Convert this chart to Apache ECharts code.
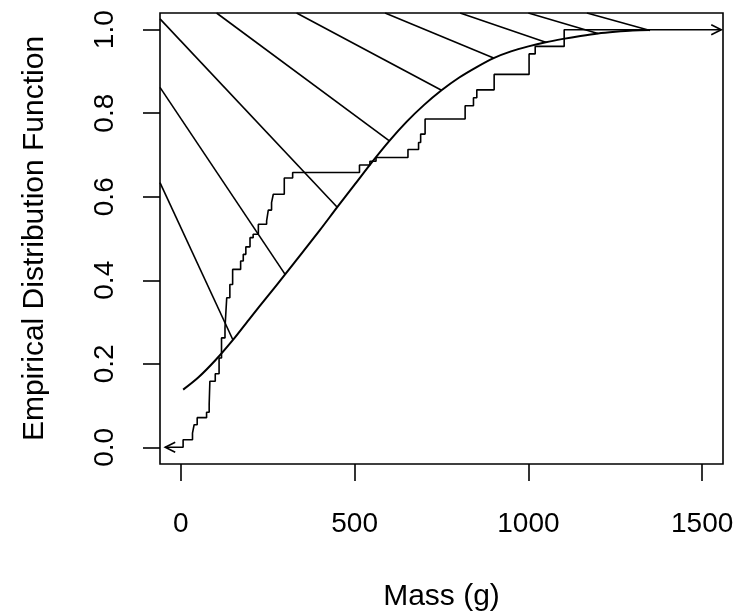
<!DOCTYPE html>
<html><head><meta charset="utf-8">
<script src="https://cdn.jsdelivr.net/npm/echarts@6/dist/echarts.min.js"></script>
<style>html,body{margin:0;padding:0;background:#fff}#c{width:749px;height:614px}</style>
</head><body><div id="c"></div>
<script>
const xTicks = [0, 500, 1000, 1500];
const yTicks = [0, 0.2, 0.4, 0.6, 0.8, 1.0];

// ECDF jump locations and levels after each jump
const ecdfX = [6.5, 33.5, 38.2, 47, 74, 81.5, 83.5, 99, 110, 117, 127, 132, 141, 149, 172, 179.6, 187, 199, 208, 223, 246.8, 251.6, 261, 266, 297.6, 321.7, 514, 544, 561.6, 653.5, 684, 690, 702.8, 818, 842, 851.6, 901.5, 1002, 1019.6, 1103];
const ecdfY = [0.018, 0.034, 0.054, 0.071, 0.084, 0.103, 0.158, 0.176, 0.214, 0.262, 0.286, 0.358, 0.390, 0.426, 0.446, 0.462, 0.480, 0.502, 0.510, 0.534, 0.542, 0.568, 0.586, 0.606, 0.645, 0.658, 0.676, 0.685, 0.694, 0.713, 0.730, 0.750, 0.786, 0.818, 0.837, 0.856, 0.893, 0.942, 0.960, 1.0];
const ecdfLeftEnd = -45, ecdfRightEnd = 1555;

// fitted distribution curve
const curveX = [6.6, 50, 100, 150, 200, 250, 300, 350, 400, 450, 500, 550, 600, 650, 700, 750, 800, 850, 900, 950, 1000, 1050, 1100, 1150, 1200, 1250, 1300, 1350];
const curveY = [0.138, 0.167, 0.209, 0.257, 0.310, 0.362, 0.414, 0.467, 0.520, 0.575, 0.629, 0.683, 0.734, 0.780, 0.820, 0.855, 0.885, 0.910, 0.932, 0.948, 0.960, 0.970, 0.978, 0.985, 0.991, 0.995, 0.998, 0.999];

// straight segments
const segX0 = [-60, -60, -60, 102.8, 333, 587.6, 803.6, 1000, 1168.5];
const segY0 = [0.634, 0.862, 1.026, 1.04, 1.04, 1.04, 1.04, 1.04, 1.04];
const segX1 = [150, 300, 450, 600, 750, 900, 1050, 1200, 1350];
const segY1 = [0.257, 0.414, 0.575, 0.734, 0.855, 0.932, 0.970, 0.991, 0.998];

const FONT = 'Liberation Sans, Arial, Helvetica, sans-serif';
const LW = 1.6;

const ecdfData = [[ecdfLeftEnd, 0]];
ecdfX.forEach((x, i) => ecdfData.push([x, ecdfY[i]]));
ecdfData.push([ecdfRightEnd, 1]);

const curveData = curveX.map((x, i) => [x, curveY[i]]);
const segData = segX0.map((x, i) => ({ coords: [[x, segY0[i]], [segX1[i], segY1[i]]] }));
const arrowData = [[ecdfLeftEnd, 0, -1], [ecdfRightEnd, 1, 1]];

const chart = echarts.init(document.getElementById('c'), null, { renderer: 'canvas' });
chart.setOption({
  backgroundColor: '#fff',
  animation: false,
  grid: { left: 160, top: 13, width: 563, height: 451, show: true, borderColor: '#000', borderWidth: LW, backgroundColor: 'transparent', containLabel: false, outerBoundsMode: 'none' },
  xAxis: {
    type: 'value', min: -60, max: 1560,
    axisLine: { show: false, onZero: false }, splitLine: { show: false },
    axisTick: { show: true, inside: false, length: 17, customValues: xTicks, lineStyle: { color: '#000', width: LW } },
    axisLabel: { customValues: xTicks, margin: 46, fontSize: 28, color: '#000', fontFamily: FONT, formatter: v => String(v) },
    name: 'Mass (g)', nameLocation: 'middle', nameGap: 118,
    nameTextStyle: { fontSize: 30, color: '#000', fontFamily: FONT }
  },
  yAxis: {
    type: 'value', min: -0.04, max: 1.04,
    axisLine: { show: false, onZero: false }, splitLine: { show: false },
    axisTick: { show: true, inside: false, length: 17, customValues: yTicks, lineStyle: { color: '#000', width: LW } },
    axisLabel: { customValues: yTicks, rotate: 90, margin: 41, fontSize: 28, color: '#000', fontFamily: FONT, formatter: v => v.toFixed(1) },
    name: 'Empirical Distribution Function', nameLocation: 'middle', nameGap: 110,
    nameTextStyle: { fontSize: 30, color: '#000', fontFamily: FONT }
  },
  series: [
    { type: 'line', data: ecdfData, step: 'end', showSymbol: false, symbol: 'none', lineStyle: { color: '#000', width: LW }, silent: true, clip: false },
    { type: 'line', data: curveData, smooth: 0.3, showSymbol: false, symbol: 'none', lineStyle: { color: '#000', width: LW + 0.4 }, silent: true },
    { type: 'lines', coordinateSystem: 'cartesian2d', data: segData, lineStyle: { color: '#000', width: LW, opacity: 1 }, symbol: 'none', silent: true },
    { type: 'custom', data: arrowData, silent: true, clip: false,
      renderItem: (params, api) => {
        const p = api.coord([api.value(0), api.value(1)]);
        const d = api.value(2);
        return { type: 'polyline', shape: { points: [[p[0] - d * 10, p[1] - 5], [p[0], p[1]], [p[0] - d * 10, p[1] + 5]] }, style: { stroke: '#000', lineWidth: LW, fill: null } };
      } }
  ]
});
</script></body></html>
